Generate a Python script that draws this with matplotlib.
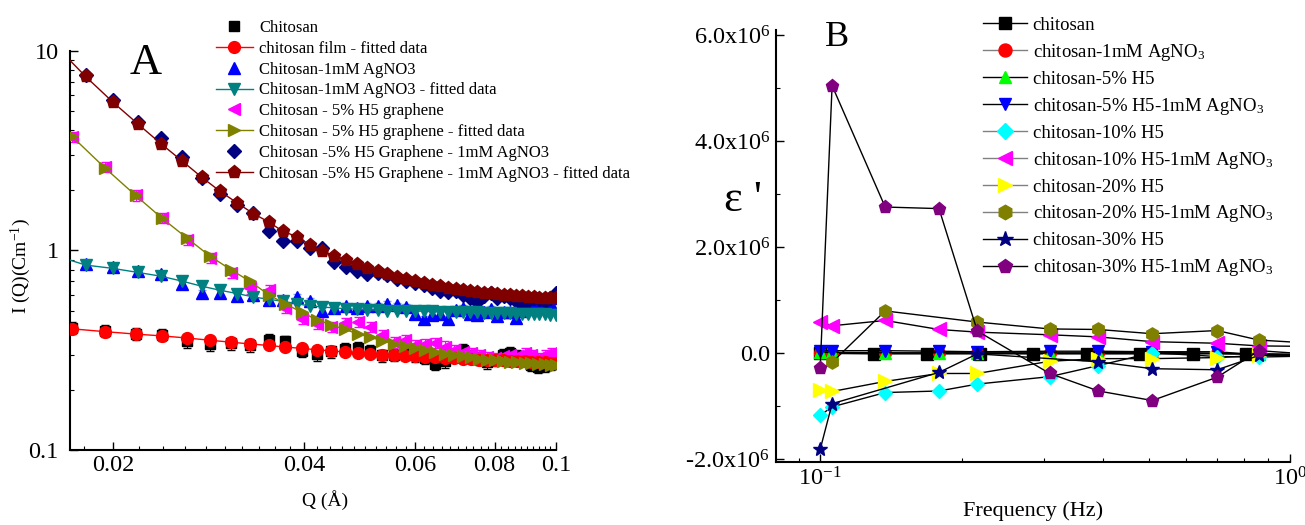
import math
import matplotlib.pyplot as plt
from matplotlib.ticker import FixedLocator, FuncFormatter, MultipleLocator, LogLocator, NullFormatter

plt.rcParams['font.family'] = ['Liberation Serif', 'DejaVu Serif']
plt.rcParams['mathtext.fontset'] = 'custom'
plt.rcParams['mathtext.rm'] = 'Liberation Serif'
plt.rcParams['mathtext.it'] = 'Liberation Serif:italic'
plt.rcParams['mathtext.bf'] = 'Liberation Serif:bold'

# ---------------- Panel A : SANS data ----------------
# Q grid of chitosan / chitosan-5% H5 samples
q1 = [0.0172, 0.0194, 0.0217, 0.0239, 0.0262, 0.0284, 0.0307, 0.0329, 0.0352, 0.0374,
      0.0397, 0.0419, 0.0442, 0.0464, 0.0487, 0.0509, 0.0532, 0.0554, 0.0577, 0.0599,
      0.0622, 0.0644, 0.0667, 0.0689, 0.0712, 0.0734, 0.0757, 0.0779, 0.0802, 0.0824,
      0.0847, 0.0869, 0.0892, 0.0914, 0.0937, 0.0959, 0.0982, 0.1000]
chitosan = [0.41, 0.395, 0.383, 0.378, 0.350, 0.338, 0.342, 0.335, 0.355, 0.350,
            0.315, 0.302, 0.312, 0.320, 0.326, 0.315, 0.298, 0.300, 0.305, 0.298,
            0.290, 0.270, 0.278, 0.300, 0.318, 0.295, 0.288, 0.275, 0.282, 0.300,
            0.305, 0.295, 0.285, 0.268, 0.262, 0.265, 0.270, 0.275]
chitosan_fit = [0.405, 0.392, 0.381, 0.373, 0.364, 0.355, 0.347, 0.340, 0.334, 0.328,
                0.323, 0.318, 0.314, 0.310, 0.307, 0.304, 0.301, 0.299, 0.297, 0.295,
                0.293, 0.291, 0.290, 0.288, 0.287, 0.286, 0.284, 0.283, 0.282, 0.281,
                0.280, 0.279, 0.278, 0.277, 0.276, 0.275, 0.274, 0.273]
h5 = [3.70, 2.62, 1.89, 1.46, 1.13, 0.92, 0.77, 0.645, 0.632, 0.515,
      0.455, 0.430, 0.413, 0.435, 0.438, 0.413, 0.375, 0.347, 0.355, 0.334,
      0.340, 0.345, 0.330, 0.318, 0.310, 0.305, 0.298, 0.292, 0.288, 0.295,
      0.300, 0.297, 0.305, 0.298, 0.290, 0.300, 0.305, 0.298]
h5_fit = [3.75, 2.60, 1.89, 1.45, 1.15, 0.94, 0.80, 0.70, 0.60, 0.54,
          0.49, 0.45, 0.424, 0.402, 0.382, 0.368, 0.352, 0.341, 0.332, 0.323,
          0.316, 0.310, 0.304, 0.299, 0.295, 0.291, 0.287, 0.284, 0.281, 0.279,
          0.277, 0.275, 0.273, 0.272, 0.270, 0.269, 0.268, 0.267]

# Q grid of the AgNO3 samples
q2 = [0.0181, 0.0200, 0.0219, 0.0238, 0.0257, 0.0276, 0.0295, 0.0314, 0.0333, 0.0352,
      0.0371, 0.0390, 0.0409, 0.0428, 0.0447, 0.0466, 0.0485, 0.0504, 0.0523, 0.0542,
      0.0561, 0.0580, 0.0599, 0.0618, 0.0637, 0.0656, 0.0675, 0.0694, 0.0713, 0.0732,
      0.0751, 0.0770, 0.0789, 0.0808, 0.0827, 0.0846, 0.0865, 0.0884, 0.0903, 0.0922,
      0.0941, 0.0960, 0.0979, 0.0998]
ag = [0.86, 0.83, 0.79, 0.76, 0.68, 0.615, 0.615, 0.59, 0.60, 0.565,
      0.566, 0.585, 0.556, 0.50, 0.515, 0.527, 0.515, 0.527, 0.527, 0.541,
      0.53, 0.52, 0.482, 0.455, 0.475, 0.482, 0.455, 0.505, 0.515, 0.482,
      0.475, 0.49, 0.51, 0.47, 0.49, 0.49, 0.46, 0.50, 0.51, 0.52,
      0.53, 0.54, 0.55, 0.58]
ag_fit = [0.845, 0.813, 0.776, 0.743, 0.702, 0.662, 0.632, 0.608, 0.585, 0.569,
          0.556, 0.541, 0.527, 0.521, 0.515, 0.511, 0.507, 0.504, 0.502, 0.500,
          0.499, 0.498, 0.497, 0.496, 0.495, 0.494, 0.493, 0.492, 0.491, 0.490,
          0.489, 0.488, 0.487, 0.486, 0.485, 0.484, 0.483, 0.482, 0.481, 0.480,
          0.479, 0.478, 0.477, 0.476]
h5_ag = [7.62, 5.68, 4.43, 3.65, 2.94, 2.31, 1.92, 1.70, 1.54, 1.245,
         1.12, 1.12, 1.03, 1.03, 0.871, 0.828, 0.79, 0.76, 0.77, 0.75,
         0.72, 0.70, 0.69, 0.67, 0.65, 0.63, 0.62, 0.63, 0.60, 0.58,
         0.55, 0.59, 0.61, 0.58, 0.59, 0.575, 0.56, 0.52, 0.56, 0.58,
         0.57, 0.56, 0.58, 0.61]
h5_ag_fit = [7.45, 5.53, 4.30, 3.43, 2.81, 2.33, 1.98, 1.73, 1.53, 1.39,
             1.245, 1.174, 1.066, 0.994, 0.942, 0.895, 0.855, 0.819, 0.788, 0.758,
             0.735, 0.716, 0.700, 0.686, 0.673, 0.662, 0.652, 0.643, 0.635, 0.628,
             0.621, 0.615, 0.610, 0.605, 0.600, 0.596, 0.592, 0.589, 0.586, 0.583,
             0.581, 0.579, 0.577, 0.575]
# fitted curves start at the left axis edge
q_edge = 0.0171
ag_fit_edge = 0.895
h5_ag_fit_edge = 8.97

# relative error bars
err_chitosan = 0.07
err_ag = 0.035
err_h5 = 0.06
err_h5_ag = 0.03

# ---------------- Panel B : dielectric constant ----------------
f_main = [0.100, 0.106, 0.1375, 0.179, 0.216, 0.308, 0.391, 0.509, 0.700, 0.859, 1.12]
f_chitosan = [0.100, 0.130, 0.169, 0.219, 0.284, 0.369, 0.479, 0.621, 0.808, 1.05]
f_h5_20_ag = [0.106, 0.1375, 0.216, 0.308, 0.391, 0.509, 0.700, 0.859, 1.12]
f_h5_30 = [0.100, 0.106, 0.179, 0.216, 0.391, 0.509, 0.700, 0.859, 1.12]

eps_chitosan = [0.0, -0.01e6, -0.01e6, -0.01e6, -0.01e6, -0.01e6, -0.01e6, -0.01e6, -0.01e6, -0.02e6]
eps_ag = [0.01e6, 0.01e6, 0.005e6, 0.005e6, 0.0, 0.0, 0.0, 0.0, 0.0, -0.01e6, -0.03e6]
eps_h5_5 = [0.02e6, 0.02e6, 0.01e6, 0.01e6, 0.01e6, 0.01e6, 0.01e6, 0.02e6, 0.0, -0.02e6, -0.03e6]
eps_h5_5_ag = [0.05e6, 0.05e6, 0.05e6, 0.04e6, 0.03e6, 0.04e6, 0.04e6, 0.03e6, 0.03e6, -0.03e6, -0.04e6]
eps_h5_10 = [-1.17e6, -1.01e6, -0.74e6, -0.71e6, -0.58e6, -0.44e6, -0.23e6, 0.01e6, -0.06e6, -0.07e6, -0.05e6]
eps_h5_10_ag = [0.60e6, 0.52e6, 0.62e6, 0.45e6, 0.40e6, 0.35e6, 0.31e6, 0.22e6, 0.19e6, 0.14e6, 0.13e6]
eps_h5_20 = [-0.69e6, -0.72e6, -0.53e6, -0.38e6, -0.38e6, -0.15e6, -0.10e6, -0.10e6, -0.08e6, -0.04e6, -0.03e6]
eps_h5_20_ag = [-0.17e6, 0.80e6, 0.59e6, 0.46e6, 0.45e6, 0.37e6, 0.43e6, 0.25e6, 0.19e6]
eps_h5_30 = [-1.81e6, -0.95e6, -0.36e6, -0.01e6, -0.16e6, -0.29e6, -0.31e6, -0.04e6, -0.03e6]
eps_h5_30_ag = [-0.27e6, 5.05e6, 2.76e6, 2.73e6, 0.42e6, -0.38e6, -0.71e6, -0.89e6, -0.45e6, 0.05e6, -0.02e6]


fig = plt.figure(figsize=(13.05, 5.25), dpi=100)
axA = fig.add_axes([0.0536, 0.1429, 0.3725, 0.7600])
axB = fig.add_axes([0.5946, 0.1200, 0.3939, 0.8229])

ms = 8.5


def rel_err(vals, r):
    return [v * r for v in vals]


# ---- Panel A ----
axA.errorbar(q1, chitosan, yerr=rel_err(chitosan, err_chitosan), fmt='none',
             ecolor='black', elinewidth=0.8, capsize=3, zorder=1)
hA1, = axA.plot(q1, chitosan, 's', color='black', ms=ms - 1, ls='none', label='Chitosan', zorder=2)
hA2, = axA.plot(q1, chitosan_fit, 'o-', color='#ff0000', ms=ms, lw=1, label='chitosan film - fitted data', zorder=3)

axA.errorbar(q2, ag, yerr=rel_err(ag, err_ag), fmt='none',
             ecolor='#7f9fff', elinewidth=0.8, capsize=3, zorder=1)
hA3, = axA.plot(q2, ag, '^', color='#0000ff', ms=ms, ls='none', label='Chitosan-1mM AgNO3', zorder=2)
hA4, = axA.plot([q_edge] + q2, [ag_fit_edge] + ag_fit, 'v-', color='#008080', ms=ms, lw=1,
                markevery=slice(1, None), label='Chitosan-1mM AgNO3 - fitted data', zorder=3)

axA.errorbar(q1, h5, yerr=rel_err(h5, err_h5), fmt='none',
             ecolor='#ff00ff', elinewidth=0.8, capsize=3, zorder=1)
hA5, = axA.plot(q1, h5, '<', color='#ff00ff', ms=ms, ls='none', label='Chitosan - 5% H5 graphene', zorder=2)
hA6, = axA.plot(q1, h5_fit, '>-', color='#808000', ms=ms, lw=1,
                label='Chitosan - 5% H5 graphene - fitted data', zorder=3)

axA.errorbar(q2, h5_ag, yerr=rel_err(h5_ag, err_h5_ag), fmt='none',
             ecolor='#3030a0', elinewidth=0.8, capsize=3, zorder=1)
hA7, = axA.plot(q2, h5_ag, 'D', color='#000080', ms=ms - 1, ls='none',
                label='Chitosan -5% H5 Graphene - 1mM AgNO3', zorder=2)
hA8, = axA.plot([q_edge] + q2, [h5_ag_fit_edge] + h5_ag_fit, 'p-', color='#800000', ms=ms + 1, lw=1,
                markevery=slice(1, None), label='Chitosan -5% H5 Graphene - 1mM AgNO3 - fitted data', zorder=3)

axA.set_xscale('log')
axA.set_yscale('log')
axA.set_xlim(0.0171, 0.1)
axA.set_ylim(0.1, 10)
axA.xaxis.set_major_locator(FixedLocator([0.02, 0.04, 0.06, 0.08, 0.1]))
axA.xaxis.set_major_formatter(FuncFormatter(lambda v, p: ('%g' % v)))
axA.xaxis.set_minor_locator(MultipleLocator(0.002))
axA.xaxis.set_minor_formatter(NullFormatter())
axA.yaxis.set_major_locator(FixedLocator([0.1, 1, 10]))
axA.yaxis.set_major_formatter(FuncFormatter(lambda v, p: ('%g' % v)))
axA.yaxis.set_minor_locator(LogLocator(base=10, subs=range(2, 10)))
axA.yaxis.set_minor_formatter(NullFormatter())

axA.set_xlabel('Q (Å)', fontsize=14)
axA.xaxis.set_label_coords(0.525, -0.10)
axA.set_ylabel('I (Q)(Cm$^{-1}$)', fontsize=14)
axA.yaxis.set_label_coords(-0.075, 0.46)

axA.legend(handles=[hA1, hA2, hA3, hA4, hA5, hA6, hA7, hA8], loc='upper left',
           bbox_to_anchor=(0.1655, 0.962), bbox_transform=fig.transFigure,
           frameon=False, fontsize=12, handlelength=2.2, handletextpad=0.4,
           labelspacing=0.29, borderpad=0, borderaxespad=0, numpoints=1)

fig.text(0.1119, 0.88, 'A', fontsize=32, ha='center', va='center')

# ---- Panel B ----
hB = []
hB += axB.plot(f_chitosan, eps_chitosan, 's-', color='black', mfc='black', mec='black', ms=ms, lw=1, label='chitosan')
hB += axB.plot(f_main, eps_ag, 'o-', color='black', mfc='#ff0000', mec='#ff0000', ms=ms, lw=1,
               label='chitosan-1mM AgNO$_3$')
hB += axB.plot(f_main, eps_h5_5, '^-', color='black', mfc='#00ff00', mec='#00ff00', ms=ms, lw=1,
               label='chitosan-5% H5')
hB += axB.plot(f_main, eps_h5_5_ag, 'v-', color='black', mfc='#0000ff', mec='#0000ff', ms=ms, lw=1,
               label='chitosan-5% H5-1mM AgNO$_3$')
hB += axB.plot(f_main, eps_h5_10, 'D-', color='black', mfc='#00ffff', mec='#00ffff', ms=ms - 1, lw=1,
               label='chitosan-10% H5')
hB += axB.plot(f_main, eps_h5_10_ag, '<-', color='black', mfc='#ff00ff', mec='#ff00ff', ms=ms + 1, lw=1,
               label='chitosan-10% H5-1mM AgNO$_3$')
hB += axB.plot(f_main, eps_h5_20, '>-', color='black', mfc='#ffff00', mec='#ffff00', ms=ms + 1, lw=1,
               label='chitosan-20% H5')
hB += axB.plot(f_h5_20_ag, eps_h5_20_ag, 'h-', color='black', mfc='#808000', mec='#808000', ms=ms + 1, lw=1,
               label='chitosan-20% H5-1mM AgNO$_3$')
hB += axB.plot(f_h5_30, eps_h5_30, '*-', color='black', mfc='#000080', mec='#000080', ms=ms + 2, lw=1,
               label='chitosan-30% H5')
hB += axB.plot(f_main, eps_h5_30_ag, 'p-', color='black', mfc='#800080', mec='#800080', ms=ms + 1, lw=1,
               label='chitosan-30% H5-1mM AgNO$_3$')

axB.set_xscale('log')
axB.set_xlim(0.0805, 1.0)
axB.set_ylim(-2.05e6, 6.1e6)
axB.xaxis.set_major_locator(LogLocator(base=10))
axB.xaxis.set_major_formatter(FuncFormatter(lambda v, p: '10$^{%d}$' % round(math.log10(v))))
axB.xaxis.set_minor_locator(LogLocator(base=10, subs=range(2, 10)))
axB.xaxis.set_minor_formatter(NullFormatter())
axB.yaxis.set_major_locator(FixedLocator([-2e6, 0, 2e6, 4e6, 6e6]))
axB.yaxis.set_minor_locator(MultipleLocator(1e6))


def eps_fmt(v, p):
    if abs(v) < 1:
        return '0.0'
    return '%.1fx10$^6$' % (v / 1e6)


axB.yaxis.set_major_formatter(FuncFormatter(eps_fmt))

axB.set_xlabel('Frequency (Hz)', fontsize=16)
axB.xaxis.set_label_coords(0.5, -0.09)

legB = axB.legend(handles=hB, loc='upper left', bbox_to_anchor=(0.7533, 0.968),
                  bbox_transform=fig.transFigure, frameon=False, fontsize=13.5,
                  handlelength=2.35, handletextpad=0.3, labelspacing=0.42,
                  borderpad=0, borderaxespad=0, numpoints=1, markerscale=1.1)
# legend lines drawn grey for some samples, as in the original
for i in (1, 4, 5, 6, 7):
    legB.get_lines()[i].set_color('#808080')

fig.text(0.6414, 0.9295, 'B', fontsize=26, ha='center', va='center')
fig.text(0.5693, 0.619, "ε '", fontsize=32, ha='center', va='center')

# common axis styling
for ax in (axA, axB):
    ax.spines['top'].set_visible(False)
    ax.spines['right'].set_visible(False)
    ax.spines['left'].set_linewidth(1.5)
    ax.spines['bottom'].set_linewidth(1.5)
    ax.tick_params(which='major', direction='in', length=6, width=1, labelsize=17.5)
    ax.tick_params(which='minor', direction='in', length=3, width=0.8)
axA.tick_params(axis='y', pad=8)
axB.tick_params(axis='y', pad=4)

fig.savefig('out.png', dpi=100)
